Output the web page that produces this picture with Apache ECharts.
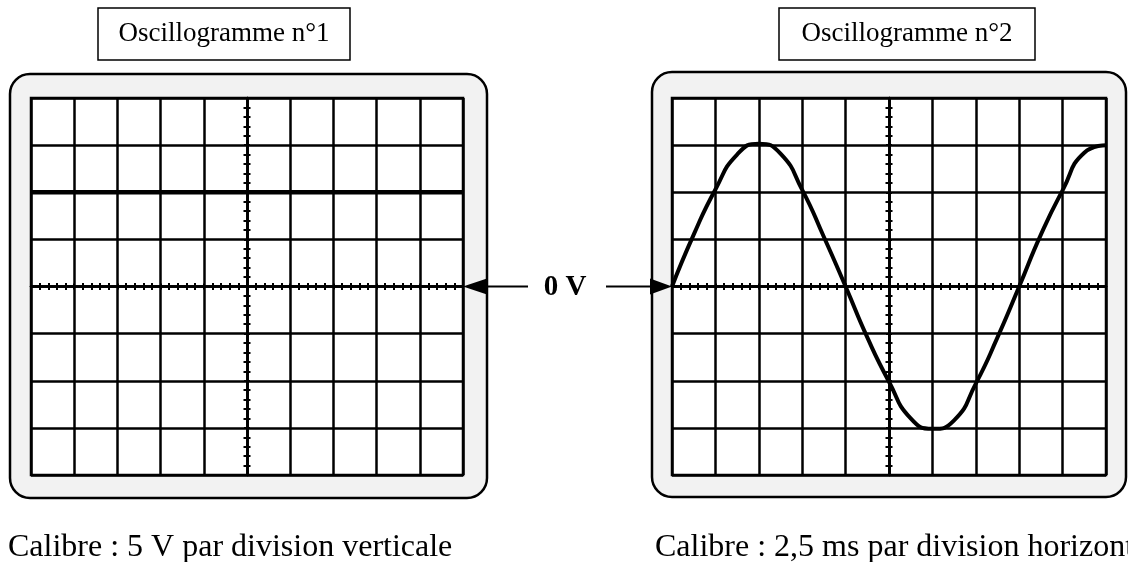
<!DOCTYPE html>
<html>
<head>
<meta charset="utf-8">
<script src="https://cdn.jsdelivr.net/npm/echarts@6/dist/echarts.min.js"></script>
<style>
  html, body { margin: 0; padding: 0; background: #fff; }
  #chart { width: 1128px; height: 562px; }
</style>
</head>
<body>
<div id="chart"></div>
<script>
// oscillogramme 1 : tension continue, 5 V / div
const scope1Time = [-5, 5]            // divisions
const scope1Volts = [10, 10]          // V

// oscillogramme 2 : sinusoide, 2,5 ms / div, lue toutes les demi-divisions
const scope2Time = [-12.5, -11.25, -10, -8.75, -7.5, -6.25, -5, -3.75, -2.5, -1.25, 0,
  1.25, 2.5, 3.75, 5, 6.25, 7.5, 8.75, 10, 11.25, 12.5]                                  // ms
const scope2Div = [0, 1.1, 2.06, 2.8, 3.03, 2.82, 2.05, 1.05, 0, -1.08, -2.02,
  -2.8, -3.02, -2.84, -2.06, -1.08, 0, 1.1, 2.04, 2.84, 3.0]                             // divisions

const titles = ['Oscillogramme n°1', 'Oscillogramme n°2']
const captions = ['Calibre : 5 V par division verticale', 'Calibre : 2,5 ms par division horizontale']
const zeroLabel = '0 V'

const SERIF = '"Liberation Serif", "Times New Roman", serif'
const INK = '#000'

const chart = echarts.init(document.getElementById('chart'), null, { renderer: 'canvas' })

function gridBox(left, width) {
  return {
    left, top: 98, width, height: 377,
    show: true, backgroundColor: '#fff', borderColor: INK, borderWidth: 2.5,
  }
}

// axe passant par le centre de l'écran, avec les petites graduations
function centreAxis(gridIndex, position, min, max, interval, zeroIdx, withSplit) {
  return {
    type: 'value', gridIndex, position, min, max, interval, z: 3,
    axisLine: { show: true, onZero: true, onZeroAxisIndex: zeroIdx, lineStyle: { color: INK, width: 2.5 } },
    axisTick: { show: true, length: 3, lineStyle: { color: INK, width: 2 } },
    minorTick: { show: true, splitNumber: 5, length: 3.5, lineStyle: { color: INK, width: 2 } },
    axisLabel: { show: false },
    splitLine: { show: withSplit, lineStyle: { color: INK, width: 2.5 } },
    minorSplitLine: { show: false },
  }
}

const xAxis = [
  centreAxis(0, 'bottom', -5, 5, 1, 0, true),
  centreAxis(0, 'top', -5, 5, 1, 0, false),
  centreAxis(1, 'bottom', -12.5, 12.5, 2.5, 2, true),
  centreAxis(1, 'top', -12.5, 12.5, 2.5, 2, false),
]
const yAxis = [
  centreAxis(0, 'left', -20, 20, 5, 0, true),
  centreAxis(0, 'right', -20, 20, 5, 0, false),
  centreAxis(1, 'left', -4, 4, 1, 2, true),
  centreAxis(1, 'right', -4, 4, 1, 2, false),
]

function frame(x, y, w, h) {
  return {
    type: 'rect', z: -10,
    shape: { x, y, width: w, height: h, r: 20 },
    style: { fill: '#f2f2f2', stroke: INK, lineWidth: 2.5 },
  }
}

function titleBox(x, w, text) {
  return [
    { type: 'rect', shape: { x, y: 8, width: w, height: 52 }, style: { fill: '#fff', stroke: INK, lineWidth: 1.5 } },
    {
      type: 'text', x: x + w / 2, y: 34,
      style: { text, font: '27px ' + SERIF, fill: INK, align: 'center', verticalAlign: 'middle' },
    },
  ]
}

const y0 = 286.5
const graphic = [
  frame(10, 74, 477, 424),
  frame(652, 72, 474, 425),
  ...titleBox(98, 252, titles[0]),
  ...titleBox(779, 256, titles[1]),
  // flèches du niveau 0 V
  { type: 'polygon', shape: { points: [[463, y0], [487, y0 - 8], [487, y0 + 8]] }, style: { fill: INK } },
  { type: 'line', shape: { x1: 487, y1: y0, x2: 528, y2: y0 }, style: { stroke: INK, lineWidth: 2 } },
  { type: 'line', shape: { x1: 606, y1: y0, x2: 650, y2: y0 }, style: { stroke: INK, lineWidth: 2 } },
  { type: 'polygon', shape: { points: [[672, y0], [650, y0 - 8], [650, y0 + 8]] }, style: { fill: INK } },
  {
    type: 'text', x: 565, y: y0 + 1,
    style: { text: zeroLabel, font: 'bold 29px ' + SERIF, fill: INK, align: 'center', verticalAlign: 'middle' },
  },
  {
    type: 'text', x: 8, y: 548,
    style: { text: captions[0], font: '32px ' + SERIF, fill: INK, align: 'left', verticalAlign: 'middle' },
  },
  {
    type: 'text', x: 655, y: 548,
    style: { text: captions[1], font: '32px ' + SERIF, fill: INK, align: 'left', verticalAlign: 'middle' },
  },
]

chart.setOption({
  animation: false,
  backgroundColor: '#fff',
  grid: [gridBox(31, 432), gridBox(672, 434)],
  xAxis,
  yAxis,
  graphic,
  series: [
    {
      type: 'line', xAxisIndex: 0, yAxisIndex: 0, z: 5,
      data: scope1Time.map((t, i) => [t, scope1Volts[i]]),
      showSymbol: false,
      lineStyle: { color: INK, width: 4.5 },
    },
    {
      type: 'line', xAxisIndex: 2, yAxisIndex: 2, z: 5,
      data: scope2Time.map((t, i) => [t, scope2Div[i]]),
      showSymbol: false, smooth: 0.55,
      lineStyle: { color: INK, width: 4 },
    },
  ],
})
</script>
</body>
</html>
